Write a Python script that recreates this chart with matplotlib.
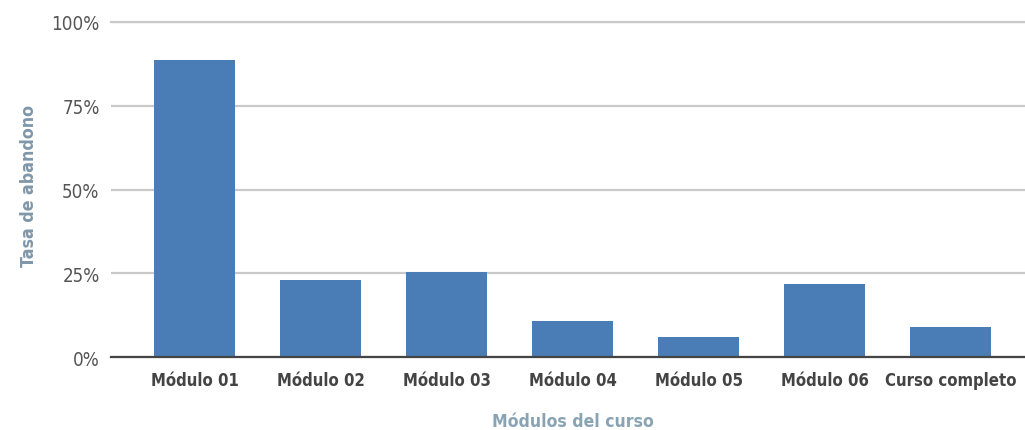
import matplotlib.pyplot as plt
from matplotlib.ticker import PercentFormatter

modulos = ['Módulo 01', 'Módulo 02', 'Módulo 03', 'Módulo 04', 'Módulo 05', 'Módulo 06', 'Curso completo']
abandono = [0.887, 0.230, 0.253, 0.107, 0.059, 0.218, 0.089]
yticks = [0, 0.25, 0.5, 0.75, 1.0]

plt.rcParams['font.family'] = ['DejaVu Sans']
plt.rcParams['font.stretch'] = 'condensed'

fig = plt.figure(figsize=(10.25, 4.31), dpi=100)
ax = fig.add_axes([0.108, 0.169, 0.892, 0.778])

x = range(len(modulos))
ax.bar(x, abandono, width=0.643, color='#4a7db6', zorder=3)

ax.set_xlim(-0.669, 6.589)
ax.set_ylim(0, 1.0)
ax.set_yticks(yticks)
ax.yaxis.set_major_formatter(PercentFormatter(1.0, decimals=0))
ax.grid(axis='y', color='#c9c9c9', linewidth=1.6, zorder=0)
ax.axhline(1.0, color='#c9c9c9', linewidth=1.6, clip_on=False, zorder=0)

for s in ['top', 'right', 'left']:
    ax.spines[s].set_visible(False)
ax.spines['bottom'].set_color('#444444')
ax.spines['bottom'].set_linewidth(1.6)
ax.spines['bottom'].set_zorder(4)

ax.set_xticks(list(x))
ax.set_xticklabels(modulos, fontsize=12, fontweight='bold', color='#444444')
ax.tick_params(axis='x', length=0, pad=10)
ax.tick_params(axis='y', length=0, pad=8, labelsize=13.5, labelcolor='#555555')

ax.set_ylabel('Tasa de abandono', fontsize=12.8, fontweight='bold', color='#7f97a8', va='center')
ax.yaxis.set_label_coords(-0.089, 0.513)
ax.set_xlabel('Módulos del curso', fontsize=12.6, fontweight='bold', color='#8aa3b3', va='center')
ax.xaxis.set_label_coords(0.505, -0.19)

fig.savefig('out.png', dpi=100, facecolor='white')
